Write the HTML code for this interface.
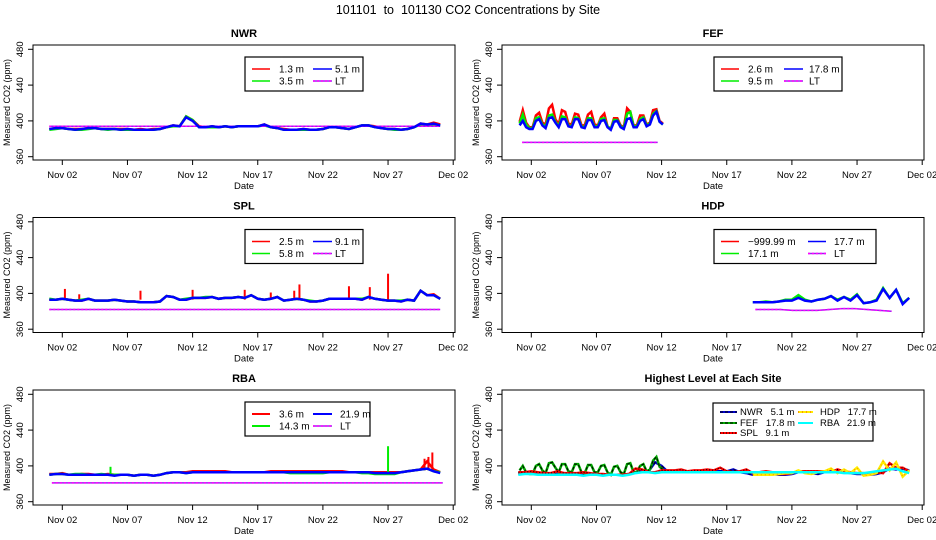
<!DOCTYPE html>
<html><head><meta charset="utf-8"><title>CO2 Concentrations by Site</title>
<style>
html,body{margin:0;padding:0;background:#fff;}
svg{display:block;font-family:"Liberation Sans",sans-serif;}
</style></head>
<body>
<svg id="chart" width="936" height="540" viewBox="0 0 936 540" xmlns="http://www.w3.org/2000/svg">
<text x="468" y="14" text-anchor="middle" font-size="12.5" xml:space="preserve">101101  to  101130 CO2 Concentrations by Site</text>
</svg>
<script>
// ---- data (days of November; 0.5-day step unless noted) ----
const xTickLabels = ["Nov 02","Nov 07","Nov 12","Nov 17","Nov 22","Nov 27","Dec 02"];
const xTickDays = [2,7,12,17,22,27,32];
const yTickVals = [360,400,440,480];
// NWR start day 1, step 0.5
const nwr51 = [391,392,392,391,390,391,392,392,391,391,391,390,391,390,390,390,390,391,393,395,394,404,400,393,393,394,393,394,393,394,394,394,394,396,393,392,390,390,390,391,390,390,391,393,393,392,391,393,395,395,393,392,391,391,390,391,393,397,396,397,395];
const nwr35 = [390,391,392,391,390,390,391,392,391,390,391,390,390,390,390,390,390,391,393,394,394,405,401,393,393,393,393,394,393,394,394,394,394,395,393,392,390,390,390,390,390,390,391,393,393,392,391,393,395,395,393,392,391,390,390,391,393,396,396,396,395];
const nwr13 = [391,392,392,391,391,391,392,392,391,391,391,391,391,390,391,390,391,391,393,395,394,405,401,394,393,394,393,394,393,394,394,394,394,396,393,392,391,390,390,391,390,390,391,393,393,392,391,393,395,395,394,392,391,391,390,391,393,397,396,398,396];
const nwrLT = [394,394,394,394,394,394,394,394,394,394,394,394,394,394,394,394,394,394,394,394,394,394,394,394,394,394,394,394,394,394,394];
// FEF start day 1.1, step 0.25
const fef178 = [395,400,393,391,391,400,402,395,392,403,404,398,393,402,402,394,393,402,402,393,392,401,401,393,393,400,401,393,390,399,400,393,391,402,403,393,393,400,402,394,396,406,410,399,396];
const fef95 = [397,407,396,392,392,403,404,396,394,406,407,399,394,405,404,395,394,404,403,394,393,403,403,394,394,402,403,394,391,401,401,394,392,408,410,394,394,402,404,395,397,408,411,399,396];
const fef26 = [399,412,398,393,393,406,409,398,396,414,418,402,396,412,410,397,396,408,407,395,395,407,410,396,395,404,408,394,391,403,403,395,393,414,410,395,395,406,406,396,398,412,413,400,397];
const fefLT = [376,376,376,376,376,376,376,376,376,376,376];
// SPL start day 1, step 0.5
const spl91 = [393,393,394,393,392,392,394,392,392,392,393,392,391,391,390,390,390,391,397,396,393,393,395,395,395,396,394,395,395,396,395,398,394,393,394,396,392,393,394,393,391,391,392,394,394,394,394,394,393,396,394,393,392,392,391,393,392,403,398,398,394];
const spl58 = [394,393,394,393,392,393,394,392,392,392,393,392,391,391,390,390,390,391,397,396,393,394,395,395,396,396,394,395,395,396,395,398,394,393,394,396,392,393,394,393,392,391,392,394,394,394,394,394,394,396,394,393,392,392,392,393,392,403,398,398,394];
const spl25 = [393,393,394,393,392,392,394,392,392,392,393,392,391,391,390,390,390,391,397,396,393,393,395,395,395,396,394,395,395,396,395,398,394,393,394,396,392,393,394,393,391,391,392,394,394,394,394,394,393,396,394,393,392,392,391,393,392,403,398,399,394];
const splSpikeDays = [2.2,3.3,8,12,16,18,19.8,20.2,24,25.6,27];
const splSpikeVals = [405,399,403,404,404,401,403,410,408,407,422];
const splLT = [382,382,382,382,382,382,382,382,382,382,382,382,382,382,382,382,382,382,382,382,382,382,382,382,382,382,382,382,382,382,382];
// HDP start day 19, step 0.5
const hdp177 = [390,390,390,390,391,392,392,395,392,391,393,394,397,392,396,392,398,389,390,392,405,395,404,388,395];
const hdp171 = [390,390,391,390,391,393,393,398,393,391,393,394,397,393,396,393,399,389,390,393,406,395,404,389,395];
const hdpLT = [382,382,382,381,381,381,382,383,383,382,381,380];
// RBA start day 1, step 0.5
const rba219 = [390,391,391,390,390,390,390,390,390,390,389,390,390,389,390,390,389,390,392,393,393,392,393,393,393,393,393,393,393,393,393,393,393,393,393,393,393,393,393,393,393,393,393,393,393,393,393,393,393,393,392,392,392,392,393,394,395,396,397,394,392];
const rba143 = [390,391,391,390,391,391,390,390,391,390,390,390,390,389,390,390,389,390,392,393,393,392,393,393,393,393,393,393,393,393,393,393,393,393,393,393,393,392,392,392,392,392,392,393,393,393,393,393,392,392,391,391,391,391,393,394,395,396,397,394,393];
const rba36 = [391,391,392,390,390,391,391,390,390,391,390,390,390,389,390,390,389,390,392,393,393,393,394,394,394,394,394,394,393,393,393,393,393,393,394,394,394,394,394,394,394,394,394,394,394,394,393,393,393,393,393,393,393,393,393,394,395,396,405,396,393];
const rbaSpikeDays = [5.7,27,29.8,30.1,30.4];
const rbaSpikeVals = [399,422,408,410,415];
const rbaLT = [381,381,381,381,381,381,381,381,381,381,381,381,381,381,381,381,381,381,381,381,381,381,381,381,381,381,381,381,381,381,381];

// ---- geometry ----
const NS = "http://www.w3.org/2000/svg";
const svg = document.getElementById("chart");
const colX = [33, 502];
const rowY = [45, 217.5, 390];
const PW = 422, PH = 115;
function mk(tag, attrs, parent){
  const e = document.createElementNS(NS, tag);
  for (const k in attrs) e.setAttribute(k, attrs[k]);
  (parent || svg).appendChild(e);
  return e;
}
function xmap(p, d){ return p.x + 29.3 + (d - 2) * 13.03; }
function ymap(p, v){ return p.y + 111.7 - (v - 360) * 107.4 / 120; }

function linePath(p, start, step, vals){
  let s = "";
  for (let i = 0; i < vals.length; i++){
    const x = xmap(p, start + i * step), y = ymap(p, vals[i]);
    s += (i === 0 ? "M" : "L") + x.toFixed(1) + "," + y.toFixed(1);
  }
  return s;
}
function series(p, name, start, step, vals, color, width, dash){
  const g = mk("path", {d: linePath(p, start, step, vals), fill: "none", stroke: color, "stroke-width": width, "stroke-linejoin": "miter"}, p.g);
  if (dash) g.setAttribute("stroke-dasharray", dash);
  
  
  return g;
}
function spikes(p, name, days, vals, base, color){
  for (let i = 0; i < days.length; i++){
    const l = mk("line", {x1: xmap(p, days[i]), x2: xmap(p, days[i]), y1: ymap(p, base), y2: ymap(p, vals[i]), stroke: color, "stroke-width": 2}, p.g);
    
    
  }
}
function ltLine(p, name, start, step, vals){
  series(p, name, start, step, vals, "#a020f0", 1.5);
  series(p, name + "-dash", start, step, vals, "#ff00ff", 1.5, "2,2");
}

function panel(col, row, title, key){
  const p = {x: colX[col], y: rowY[row]};
  const g = mk("g", {});
  
  
  p.g = g;
  const t = mk("text", {x: p.x + PW / 2, y: p.y - 8, "text-anchor": "middle", "font-size": 11, "font-weight": "bold"}, g);
  t.textContent = title;
  
  
  const box = mk("rect", {x: p.x, y: p.y, width: PW, height: PH, fill: "none", stroke: "#000", "stroke-width": 1}, g);
  
  
  for (let i = 0; i < xTickDays.length; i++){
    const x = xmap(p, xTickDays[i]);
    mk("line", {x1: x, x2: x, y1: p.y + PH, y2: p.y + PH + 5, stroke: "#000"}, g);
    const tl = mk("text", {x: x, y: p.y + PH + 18, "text-anchor": "middle", "font-size": 9.5}, g);
    tl.textContent = xTickLabels[i];
    
    
  }
  const xt = mk("text", {x: p.x + PW / 2, y: p.y + PH + 29, "text-anchor": "middle", "font-size": 9.5}, g);
  xt.textContent = "Date";
  
  
  for (let i = 0; i < yTickVals.length; i++){
    const y = ymap(p, yTickVals[i]);
    mk("line", {x1: p.x - 5, x2: p.x, y1: y, y2: y, stroke: "#000"}, g);
    const tl = mk("text", {x: 0, y: 0, "text-anchor": "middle", "font-size": 9.5, transform: "translate(" + (p.x - 10) + "," + y + ") rotate(-90)"}, g);
    tl.textContent = yTickVals[i];
    
    
  }
  const yt = mk("text", {x: 0, y: 0, "text-anchor": "middle", "font-size": 9, transform: "translate(" + (p.x - 23) + "," + (p.y + PH / 2) + ") rotate(-90)"}, g);
  yt.textContent = "Measured CO2 (ppm)";
  
  
  return p;
}

function legend(p, key, entries, w, h, rowsY, colLine, colText){
  const lx = p.x + 212, ly = p.y + 12;
  const lg = mk("g", {}, p.g);
  
  
  mk("rect", {x: lx, y: ly, width: w, height: h, fill: "#fff", stroke: "#000", "stroke-width": 1.2}, lg);
  entries.forEach((e) => {
    const c = e.col, r = e.row;
    const y = ly + rowsY[r];
    const eg = mk("g", {}, lg);
    
    
    mk("line", {x1: lx + colLine[c][0], x2: lx + colLine[c][1], y1: y, y2: y, stroke: e.color, "stroke-width": e.w || 1.5}, eg);
    if (e.dash) mk("line", {x1: lx + colLine[c][0], x2: lx + colLine[c][1], y1: y, y2: y, stroke: e.dashColor, "stroke-width": 1.5, "stroke-dasharray": e.dash}, eg);
    const t = mk("text", {x: lx + colText[c], y: y + 3.5, "font-size": 10}, eg);
    t.textContent = e.label;
  });
}
const std = [[7, 25], [68, 87]], stdT = [34, 90];

let p = panel(0, 0, "NWR", "nwr");
series(p, "nwr-1.3m", 1, 0.5, nwr13, "#ff0000", 2.5);
series(p, "nwr-3.5m", 1, 0.5, nwr35, "#00ee00", 2.5);
ltLine(p, "nwr-lt", 1, 1, nwrLT);
series(p, "nwr-5.1m", 1, 0.5, nwr51, "#0000ff", 2.5);
legend(p, "nwr", [
  {label: "1.3 m", color: "#ff0000", col: 0, row: 0},
  {label: "3.5 m", color: "#00ee00", col: 0, row: 1},
  {label: "5.1 m", color: "#0000ff", col: 1, row: 0},
  {label: "LT", color: "#a020f0", dash: "2,2", dashColor: "#ff00ff", col: 1, row: 1}], 118, 34, [12, 24], std, stdT);

p = panel(1, 0, "FEF", "fef");
series(p, "fef-2.6m", 1.1, 0.25, fef26, "#ff0000", 2.5);
series(p, "fef-9.5m", 1.1, 0.25, fef95, "#00ee00", 2.5);
series(p, "fef-17.8m", 1.1, 0.25, fef178, "#0000ff", 2.5);
ltLine(p, "fef-lt", 1.3, 1.04, fefLT);
legend(p, "fef", [
  {label: "2.6 m", color: "#ff0000", col: 0, row: 0},
  {label: "9.5 m", color: "#00ee00", col: 0, row: 1},
  {label: "17.8 m", color: "#0000ff", col: 1, row: 0},
  {label: "LT", color: "#a020f0", dash: "2,2", dashColor: "#ff00ff", col: 1, row: 1}], 128, 34, [12, 24], [[7, 25], [70, 89]], [34, 95]);

p = panel(0, 1, "SPL", "spl");
series(p, "spl-2.5m", 1, 0.5, spl25, "#ff0000", 2.5);
spikes(p, "spl-2.5m-spike", splSpikeDays, splSpikeVals, 393, "#ff0000");
series(p, "spl-5.8m", 1, 0.5, spl58, "#00ee00", 2.5);
series(p, "spl-9.1m", 1, 0.5, spl91, "#0000ff", 2.5);
ltLine(p, "spl-lt", 1, 1, splLT);
legend(p, "spl", [
  {label: "2.5 m", color: "#ff0000", col: 0, row: 0},
  {label: "5.8 m", color: "#00ee00", col: 0, row: 1},
  {label: "9.1 m", color: "#0000ff", col: 1, row: 0},
  {label: "LT", color: "#a020f0", dash: "2,2", dashColor: "#ff00ff", col: 1, row: 1}], 118, 34, [12, 24], std, stdT);

p = panel(1, 1, "HDP", "hdp");
series(p, "hdp-17.1m", 19, 0.5, hdp171, "#00ee00", 2.5);
series(p, "hdp-17.7m", 19, 0.5, hdp177, "#0000ff", 2.5);
ltLine(p, "hdp-lt", 19.2, 0.95, hdpLT);
legend(p, "hdp", [
  {label: "\u2212999.99 m", color: "#ff0000", col: 0, row: 0},
  {label: "17.1 m", color: "#00ee00", col: 0, row: 1},
  {label: "17.7 m", color: "#0000ff", col: 1, row: 0},
  {label: "LT", color: "#a020f0", dash: "2,2", dashColor: "#ff00ff", col: 1, row: 1}], 162, 34, [12, 24], [[7, 25], [94, 112]], [34, 120]);

p = panel(0, 2, "RBA", "rba");
series(p, "rba-3.6m", 1, 0.5, rba36, "#ff0000", 2.5);
spikes(p, "rba-3.6m-spike", rbaSpikeDays.slice(2), rbaSpikeVals.slice(2), 395, "#ff0000");
series(p, "rba-14.3m", 1, 0.5, rba143, "#00ee00", 2.5);
spikes(p, "rba-14.3m-spike", rbaSpikeDays.slice(0, 2), rbaSpikeVals.slice(0, 2), 391, "#00ee00");
series(p, "rba-21.9m", 1, 0.5, rba219, "#0000ff", 2.5);
ltLine(p, "rba-lt", 1.2, 1, rbaLT);
legend(p, "rba", [
  {label: "3.6 m", color: "#ff0000", col: 0, row: 0, w: 2},
  {label: "14.3 m", color: "#00ee00", col: 0, row: 1, w: 2},
  {label: "21.9 m", color: "#0000ff", col: 1, row: 0, w: 2},
  {label: "LT", color: "#a020f0", dash: "2,2", dashColor: "#ff00ff", col: 1, row: 1}], 125, 34, [12, 24], [[7, 25], [68, 87]], [34, 95]);

p = panel(1, 2, "Highest Level at Each Site", "highest");
series(p, "high-nwr", 1, 0.5, nwr51, "#0000cc", 2.5);
series(p, "high-nwr-dash", 1, 0.5, nwr51, "#000", 1, "3,2");
series(p, "high-fef", 1.1, 0.25, fef178, "#00aa00", 2.5);
series(p, "high-fef-dash", 1.1, 0.25, fef178, "#000", 1, "3,2");
series(p, "high-spl", 1, 0.5, spl91, "#ff0000", 2.5);
series(p, "high-spl-dot", 1, 0.5, spl91, "#000", 1, "1,2");
series(p, "high-hdp", 19, 0.5, hdp177, "#ffee00", 2.5);
series(p, "high-hdp-dot", 19, 0.5, hdp177, "#ff8800", 1, "1,3");
series(p, "high-rba", 1, 0.5, rba219, "#00ffff", 2.5);
(function(){
  const lx = p.x + 211, ly = p.y + 13;
  const lg = mk("g", {}, p.g);
  
  
  mk("rect", {x: lx, y: ly, width: 160, height: 38, fill: "#fff", stroke: "#000", "stroke-width": 1.2}, lg);
  const ent = [
    ["NWR   5.1 m", "#0000cc", "#000", "3,2", 0, 9],
    ["FEF   17.8 m", "#00aa00", "#000", "3,2", 0, 20],
    ["SPL   9.1 m", "#ff0000", "#000", "1,2", 0, 30],
    ["HDP   17.7 m", "#ffee00", "#ff4400", "1,3", 1, 9],
    ["RBA   21.9 m", "#00ffff", null, null, 1, 20]];
  ent.forEach(e => {
    const eg = mk("g", {}, lg);
    
    
    const x0 = e[4] ? lx + 85 : lx + 7, x1 = e[4] ? lx + 100 : lx + 24, tx = e[4] ? lx + 107 : lx + 27;
    const y = ly + e[5];
    mk("line", {x1: x0, x2: x1, y1: y, y2: y, stroke: e[1], "stroke-width": 2}, eg);
    if (e[2]) mk("line", {x1: x0, x2: x1, y1: y, y2: y, stroke: e[2], "stroke-width": 1, "stroke-dasharray": e[3]}, eg);
    const t = mk("text", {x: tx, y: y + 3, "font-size": 9.5}, eg);
    t.textContent = e[0];
    t.setAttribute("xml:space", "preserve");
    t.style.whiteSpace = "pre";
  });
})();
</script>
</body></html>
